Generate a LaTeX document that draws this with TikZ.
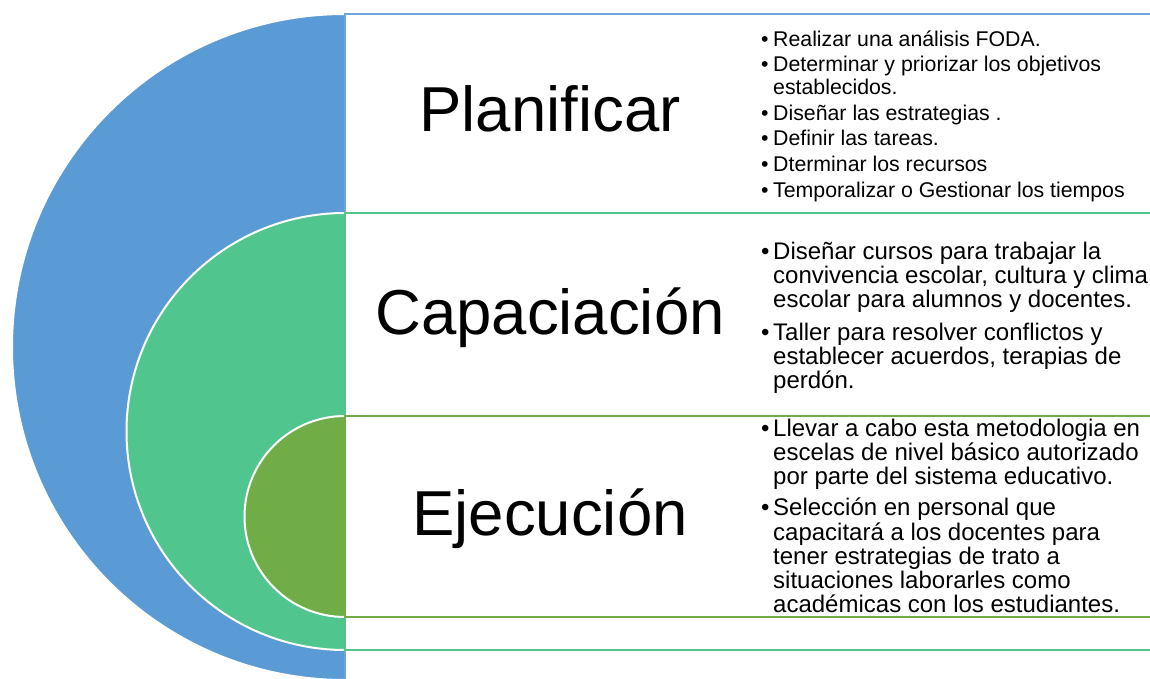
\documentclass[tikz,border=0pt]{standalone}
\usepackage{fontspec}
\setmainfont{Liberation Sans}
\usepackage{xcolor}
\usepackage{tikz}

\definecolor{planblue}{RGB}{91,155,213}
\definecolor{capgreen}{RGB}{80,198,142}
\definecolor{ejeolive}{RGB}{112,173,71}

\newcommand{\bul}{\makebox[12pt][l]{•}}
\newcommand{\hang}{\hspace*{12pt}}

\begin{document}
\begin{tikzpicture}[
  x=1pt, y=-1pt,
  halfdisc/.style={draw=white, line width=2pt},
  stagebox/.style={fill=white, line width=1.8pt},
  stagetitle/.style={anchor=base, inner sep=0pt, font=\fontsize{63.5}{70}\selectfont},
  itemlist/.style={anchor=north west, inner sep=0pt, align=left},
  smalllist/.style={itemlist, font=\fontsize{21.3}{22.7}\selectfont},
  biglist/.style={itemlist, font=\fontsize{24}{24.2}\selectfont}
]
  \useasboundingbox (0,0) rectangle (1150,679);
  \clip (0,0) rectangle (1150,679);

  % Planificar (outer ring)
  \filldraw[halfdisc, fill=planblue] (345,14) arc[start angle=270, end angle=90, radius=333] -- cycle;
  \draw[stagebox, draw=planblue!90] (345,14) rectangle (1154,683);

  % Capaciacion (middle ring)
  \filldraw[halfdisc, fill=capgreen] (345,213) arc[start angle=270, end angle=90, radius=218.5] -- cycle;
  \draw[stagebox, draw=capgreen] (345,213) rectangle (1154,650);

  % Ejecucion (inner ring)
  \filldraw[halfdisc, fill=ejeolive] (345,416) arc[start angle=270, end angle=90, radius=100.5] -- cycle;
  \draw[stagebox, draw=ejeolive] (345,416) rectangle (1154,617);

  % Stage titles
  \node[stagetitle] (planificar) at (550,132) {Planificar};
  \node[stagetitle] (capaciacion) at (550,334) {Capaciación};
  \node[stagetitle] (ejecucion) at (550,535) {Ejecución};

  % Task lists
  \node[smalllist] (planlist) at (761,26) {\rule{0pt}{20pt}\bul Realizar una análisis FODA.\\[3pt]
    \bul Determinar y priorizar los objetivos\\
    \hang establecidos.\\[3pt]
    \bul Diseñar las estrategias .\\[3pt]
    \bul Definir las tareas.\\[3pt]
    \bul Dterminar los recursos\\[3pt]
    \bul Temporalizar o Gestionar los tiempos};
  \node[biglist] (caplist) at (761,237.3) {\rule{0pt}{22pt}\bul Diseñar cursos para trabajar la\\
    \hang convivencia escolar, cultura y clima\\
    \hang escolar para alumnos y docentes.\\[8pt]
    \bul Taller para resolver conflictos y\\
    \hang establecer acuerdos, terapias de\\
    \hang perdón.};
  \node[biglist] (ejelist) at (761,414) {\rule{0pt}{22pt}\bul Llevar a cabo esta metodologia en\\
    \hang escelas de nivel básico autorizado\\
    \hang por parte del sistema educativo.\\[7pt]
    \bul Selección en personal que\\
    \hang capacitará a los docentes para\\
    \hang tener estrategias de trato a\\
    \hang situaciones laborarles como\\
    \hang académicas con los estudiantes.};
\end{tikzpicture}
\end{document}
